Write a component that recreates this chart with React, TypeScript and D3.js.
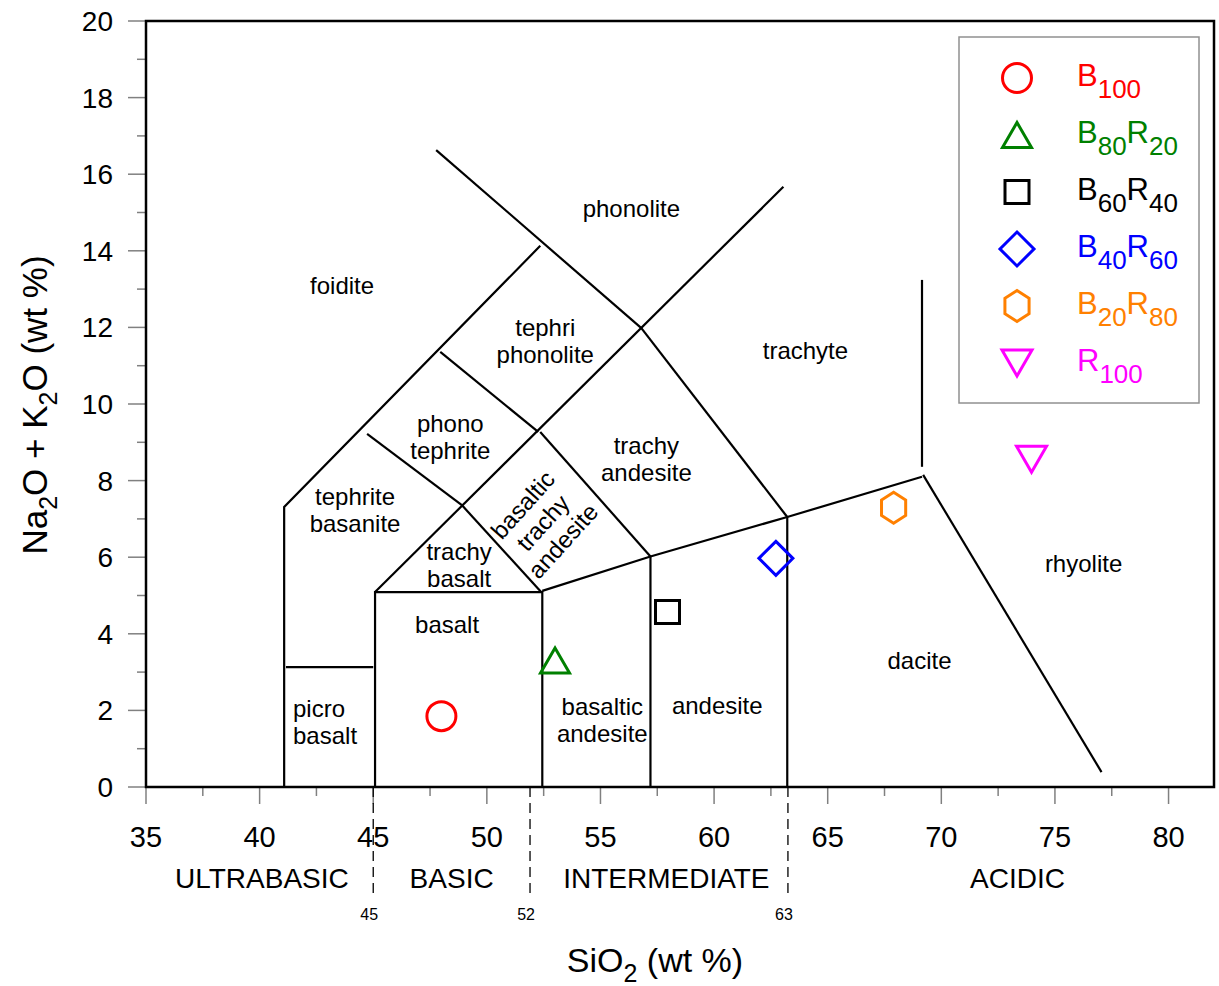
import React from "react";
import * as d3 from "d3";

// ---------- data ----------
const seriesNames = ["B100", "B80R20", "B60R40", "B40R60", "B20R80", "R100"];
const seriesMain = [["B", "100"], ["B", "80", "R", "20"], ["B", "60", "R", "40"], ["B", "40", "R", "60"], ["B", "20", "R", "80"], ["R", "100"]];
const seriesSiO2 = [48.0, 53.0, 57.95, 62.72, 67.9, 73.97];
const seriesAlk = [1.85, 3.3, 4.57, 5.97, 7.29, 8.56];
const seriesColors = ["#ff0000", "#008000", "#000000", "#0000ff", "#ff8000", "#ff00ff"];
const seriesShapes = ["circle", "triangleUp", "square", "diamond", "hexagon", "triangleDown"];

const xTicksMajor = [35, 40, 45, 50, 55, 60, 65, 70, 75, 80];
const xTicksMinor = [37.5, 42.5, 47.5, 52.5, 57.5, 62.5, 67.5, 72.5, 77.5];
const yTicksMajor = [0, 2, 4, 6, 8, 10, 12, 14, 16, 18, 20];
const yTicksMinor = [1, 3, 5, 7, 9, 11, 13, 15, 17, 19];

// TAS field boundaries (SiO2, Na2O+K2O)
const boundaries: [number, number][][] = [
  [[41.08, 0], [41.08, 7.31], [52.35, 14.13]],
  [[41.16, 3.13], [45.0, 3.13]],
  [[45.08, 0], [45.08, 5.09], [52.44, 5.09], [52.44, 0]],
  [[45.08, 5.09], [63.05, 15.67]],
  [[44.73, 9.22], [48.9, 7.36]],
  [[48.9, 7.36], [52.39, 5.09]],
  [[47.95, 11.36], [52.26, 9.27]],
  [[52.35, 9.27], [57.2, 6.02]],
  [[52.44, 5.12], [57.2, 6.02], [63.22, 7.05], [69.15, 8.1]],
  [[57.2, 0], [57.2, 6.02]],
  [[63.22, 0], [63.22, 7.05]],
  [[56.8, 11.98], [63.22, 7.05]],
  [[47.77, 16.63], [56.8, 11.98]],
  [[69.15, 8.36], [69.15, 13.24]],
  [[69.2, 8.15], [77.05, 0.39]],
];

// Field names: [lines, SiO2, alk]
const fieldNames = [
  { lines: ["phonolite"], x: 56.36, y: 15.09 },
  { lines: ["foidite"], x: 43.63, y: 13.08 },
  { lines: ["tephri", "phonolite"], x: 52.57, y: 11.62 },
  { lines: ["trachyte"], x: 64.02, y: 11.38 },
  { lines: ["phono", "tephrite"], x: 48.39, y: 9.13 },
  { lines: ["trachy", "andesite"], x: 57.02, y: 8.55 },
  { lines: ["tephrite", "basanite"], x: 44.2, y: 7.22 },
  { lines: ["trachy", "basalt"], x: 48.78, y: 5.78 },
  { lines: ["rhyolite"], x: 76.26, y: 5.82 },
  { lines: ["basalt"], x: 48.25, y: 4.23 },
  { lines: ["dacite"], x: 69.04, y: 3.29 },
  { lines: ["basaltic", "andesite"], x: 55.08, y: 1.74 },
  { lines: ["andesite"], x: 60.14, y: 2.11 },
];
const picroName = { lines: ["picro", "basalt"], x: 41.47, y: 1.68 };
const rotatedName = { lines: ["basaltic", "trachy", "andesite"], x: 52.48, y: 6.89, angle: -48 };

const silicaClasses = [
  { name: "ULTRABASIC", x: 40.1 },
  { name: "BASIC", x: 48.45 },
  { name: "INTERMEDIATE", x: 57.9 },
  { name: "ACIDIC", x: 73.35 },
];
const silicaCuts = [45, 51.9, 63.25];
const silicaCutLabels = ["45", "52", "63"];

// ---------- layout ----------
const W = 1219, H = 986;
const x = d3.scaleLinear().domain([35, 82]).range([146, 1214]);
const y = d3.scaleLinear().domain([0, 20]).range([787, 21]);
const FONT = "Arial, 'Liberation Sans', sans-serif";

function shapePath(shape: string): string {
  const p = d3.path();
  if (shape === "circle") {
    p.arc(0, 0, 14.5, 0, Math.PI * 2);
    p.closePath();
  } else if (shape === "triangleUp") {
    p.moveTo(0, -12.5); p.lineTo(14.5, 12.5); p.lineTo(-14.5, 12.5); p.closePath();
  } else if (shape === "triangleDown") {
    p.moveTo(-15, -13); p.lineTo(15, -13); p.lineTo(0, 13); p.closePath();
  } else if (shape === "square") {
    p.rect(-12, -11.5, 24, 23);
  } else if (shape === "diamond") {
    p.moveTo(0, -17); p.lineTo(17, 0); p.lineTo(0, 17); p.lineTo(-17, 0); p.closePath();
  } else if (shape === "hexagon") {
    const R = 15.5;
    for (let i = 0; i < 6; i++) {
      const a = -Math.PI / 2 + (i * Math.PI) / 3;
      const px = R * 0.9 * Math.cos(a), py = R * Math.sin(a);
      if (i === 0) p.moveTo(px, py); else p.lineTo(px, py);
    }
    p.closePath();
  }
  return p.toString();
}

const line = d3.line<[number, number]>().x((d) => x(d[0])).y((d) => y(d[1]));

function LegendLabel({ parts, color, tx, ty }: { parts: string[]; color: string; tx: number; ty: number }) {
  return (
    <text x={tx} y={ty} fill={color} fontFamily={FONT} fontSize={31}>
      {parts.map((s, i) =>
        i % 2 === 0 ? (
          <tspan key={i} dy={i === 0 ? 0 : -12} fontSize={31}>{s}</tspan>
        ) : (
          <tspan key={i} dy={12} fontSize={26}>{s}</tspan>
        )
      )}
    </text>
  );
}

export default function App() {
  const legendX = 959, legendY = 37, legendW = 240, legendH = 366;
  const rowY = (i: number) => 78 + i * 57;
  return (
    <svg width={W} height={H} style={{ position: "absolute", left: 0, top: 0, background: "#fff" }}>
      <rect x={0} y={0} width={W} height={H} fill="#fff" />
      {/* ticks */}
      {xTicksMajor.map((t) => (
        <line key={"xM" + t} x1={x(t)} x2={x(t)} y1={y(0)} y2={y(0) + 17} stroke="#808080" strokeWidth={1.5} />
      ))}
      {xTicksMinor.map((t) => (
        <line key={"xm" + t} x1={x(t)} x2={x(t)} y1={y(0)} y2={y(0) + 9} stroke="#808080" strokeWidth={1.5} />
      ))}
      {yTicksMajor.map((t) => (
        <line key={"yM" + t} x1={x(35) - 18} x2={x(35)} y1={y(t)} y2={y(t)} stroke="#808080" strokeWidth={1.5} />
      ))}
      {yTicksMinor.map((t) => (
        <line key={"ym" + t} x1={x(35) - 9} x2={x(35)} y1={y(t)} y2={y(t)} stroke="#808080" strokeWidth={1.5} />
      ))}
      {xTicksMajor.map((t) => (
        <text key={"xl" + t} x={x(t)} y={847} textAnchor="middle" fontFamily={FONT} fontSize={29}>{t}</text>
      ))}
      {yTicksMajor.map((t) => (
        <text key={"yl" + t} x={113} y={y(t) + 10} textAnchor="end" fontFamily={FONT} fontSize={28}>{t}</text>
      ))}

      {/* boundaries */}
      {boundaries.map((b, i) => (
        <path key={"b" + i} d={line(b) || ""} fill="none" stroke="#000" strokeWidth={2.2} />
      ))}

      {/* frame */}
      <rect x={x(35)} y={y(20)} width={x(82) - x(35)} height={y(0) - y(20)} fill="none" stroke="#000" strokeWidth={2.5} />

      {/* field names */}
      {fieldNames.map((f, i) => (
        <text key={"f" + i} textAnchor="middle" fontFamily={FONT} fontSize={24}>
          {f.lines.map((l, j) => (
            <tspan key={j} x={x(f.x)} y={y(f.y) + 8 + (j - (f.lines.length - 1) / 2) * 27}>{l}</tspan>
          ))}
        </text>
      ))}
      <text textAnchor="start" fontFamily={FONT} fontSize={24}>
        {picroName.lines.map((l, j) => (
          <tspan key={j} x={x(picroName.x)} y={y(picroName.y) + 8 + (j - 0.5) * 27}>{l}</tspan>
        ))}
      </text>
      <g transform={`translate(${x(rotatedName.x)},${y(rotatedName.y)}) rotate(${rotatedName.angle})`}>
        <text textAnchor="middle" fontFamily={FONT} fontSize={24}>
          {rotatedName.lines.map((l, j) => (
            <tspan key={j} x={0} y={8 + (j - 1) * 27}>{l}</tspan>
          ))}
        </text>
      </g>

      {/* silica classes */}
      {silicaCuts.map((c, i) => (
        <g key={"c" + i}>
          <line x1={x(c)} x2={x(c)} y1={y(0)} y2={898} stroke="#000" strokeWidth={1.3} strokeDasharray="10,6" />
          <text x={x(c) - 4} y={920} textAnchor="middle" fontFamily={FONT} fontSize={16}>{silicaCutLabels[i]}</text>
        </g>
      ))}
      {silicaClasses.map((c) => (
        <text key={c.name} x={x(c.x)} y={888} textAnchor="middle" fontFamily={FONT} fontSize={28}>{c.name}</text>
      ))}

      {/* data points */}
      {seriesNames.map((n, i) => (
        <path key={"p" + n} d={shapePath(seriesShapes[i])}
          transform={`translate(${x(seriesSiO2[i])},${y(seriesAlk[i])})`}
          fill="none" stroke={seriesColors[i]} strokeWidth={3} />
      ))}

      {/* legend */}
      <rect x={legendX} y={legendY} width={legendW} height={legendH} fill="#fff" stroke="#909090" strokeWidth={1.5} />
      {seriesNames.map((n, i) => (
        <g key={"l" + n}>
          <path d={shapePath(seriesShapes[i])} transform={`translate(1017,${rowY(i)})`} fill="none" stroke={seriesColors[i]} strokeWidth={3} />
          <LegendLabel parts={seriesMain[i]} color={seriesColors[i]} tx={1077} ty={rowY(i) + 8} />
        </g>
      ))}

      {/* axis titles */}
      <text x={655} y={972} textAnchor="middle" fontFamily={FONT} fontSize={34}>
        <tspan>SiO</tspan><tspan fontSize={25} dy={10}>2</tspan><tspan dy={-10}> (wt %)</tspan>
      </text>
      <g transform="translate(47,405) rotate(-90)">
        <text x={0} y={0} textAnchor="middle" fontFamily={FONT} fontSize={35}>
          <tspan>Na</tspan><tspan fontSize={25} dy={10}>2</tspan><tspan dy={-10}>O + K</tspan><tspan fontSize={25} dy={10}>2</tspan><tspan dy={-10}>O (wt %)</tspan>
        </text>
      </g>
    </svg>
  );
}
